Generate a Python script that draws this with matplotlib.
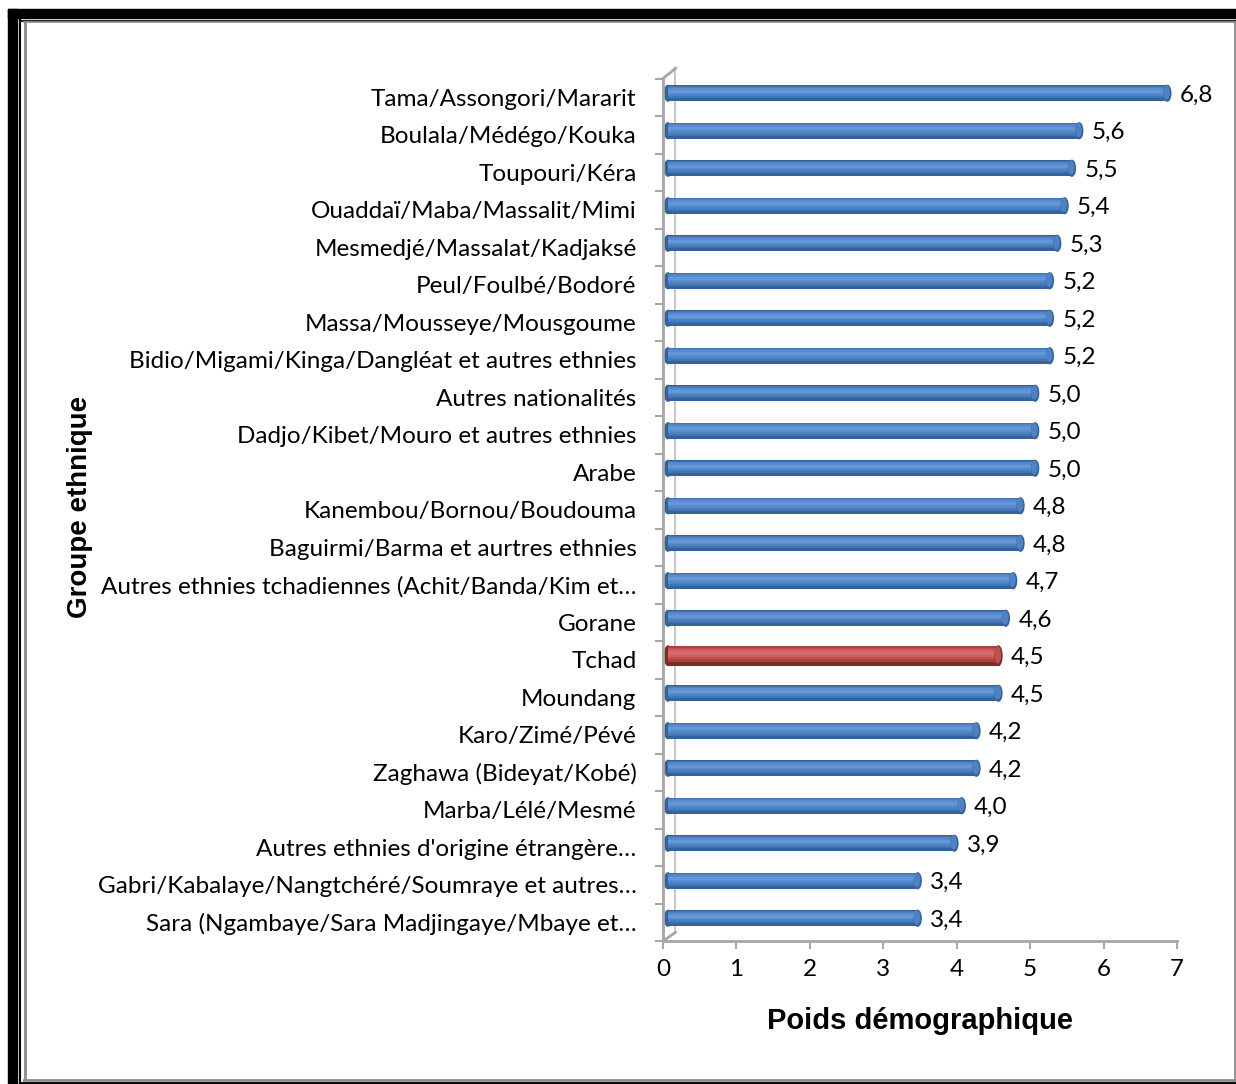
import matplotlib
matplotlib.use("Agg")
import matplotlib.pyplot as plt
import matplotlib.transforms as mtransforms
from matplotlib.patches import Rectangle, Ellipse
from matplotlib.lines import Line2D

# data, top to bottom as in the chart
groups = [
    "Tama/Assongori/Mararit",
    "Boulala/Médégo/Kouka",
    "Toupouri/Kéra",
    "Ouaddaï/Maba/Massalit/Mimi",
    "Mesmedjé/Massalat/Kadjaksé",
    "Peul/Foulbé/Bodoré",
    "Massa/Mousseye/Mousgoume",
    "Bidio/Migami/Kinga/Dangléat et autres ethnies",
    "Autres nationalités",
    "Dadjo/Kibet/Mouro et autres ethnies",
    "Arabe",
    "Kanembou/Bornou/Boudouma",
    "Baguirmi/Barma et aurtres ethnies",
    "Autres ethnies tchadiennes (Achit/Banda/Kim et…",
    "Gorane",
    "Tchad",
    "Moundang",
    "Karo/Zimé/Pévé",
    "Zaghawa (Bideyat/Kobé)",
    "Marba/Lélé/Mesmé",
    "Autres ethnies d'origine étrangère…",
    "Gabri/Kabalaye/Nangtchéré/Soumraye et autres…",
    "Sara (Ngambaye/Sara Madjingaye/Mbaye et…",
]
values = [6.8, 5.6, 5.5, 5.4, 5.3, 5.2, 5.2, 5.2, 5.0, 5.0, 5.0, 4.8, 4.8,
          4.7, 4.6, 4.5, 4.5, 4.2, 4.2, 4.0, 3.9, 3.4, 3.4]
highlight = "Tchad"
x_ticks = [0, 1, 2, 3, 4, 5, 6, 7]

W, H = 1236, 1084
LABEL_FONT = "Lato"
TITLE_FONT = "Liberation Sans"
GRAY = "#A6A6A6"
FS = 17.5


def fx(x):
    return x / W


def fy(y):
    return 1 - y / H


fig = plt.figure(figsize=(W / 100, H / 100), dpi=100)

# outer frame (thick black band + thin black + grey line)
frame = [
    Rectangle((fx(8), fy(18)), fx(W - 8), 9 / H, color="black"),
    Rectangle((fx(8), 0), 9 / W, fy(9), color="black"),
]
for p in frame:
    p.set_transform(fig.transFigure)
    fig.add_artist(p)
fig.add_artist(Line2D([fx(20), fx(20)], [fy(20), fy(1083)], color="black", lw=1.5, transform=fig.transFigure))
fig.add_artist(Line2D([fx(20), 1], [fy(20.5), fy(20.5)], color="black", lw=1.2, transform=fig.transFigure))
fig.add_artist(Line2D([fx(20), 1], [fy(1083), fy(1083)], color="black", lw=2, transform=fig.transFigure))
fig.add_artist(Line2D([fx(24.5), fx(24.5)], [fy(22), fy(1080)], color="#8C8C8C", lw=2, transform=fig.transFigure))
fig.add_artist(Line2D([fx(24), fx(1234.5)], [fy(22), fy(22)], color="#8C8C8C", lw=1.2, transform=fig.transFigure))
fig.add_artist(Line2D([fx(24), fx(1234.5)], [fy(1080), fy(1080)], color="#8C8C8C", lw=2, transform=fig.transFigure))
fig.add_artist(Line2D([fx(1234.5), fx(1234.5)], [fy(22), fy(1080)], color="#8C8C8C", lw=2, transform=fig.transFigure))

ax = fig.add_axes([fx(663), fy(941), fx(1177 - 663), (941 - 78.5) / H])
n = len(groups)
ypos = [n - 1 - i for i in range(n)]
ax.set_xlim(0, 7)
ax.set_ylim(-0.5, n - 0.5)

# bars sit on the back wall of the 3D chart
back = ax.transData + mtransforms.ScaledTranslation(5 / 100, 4 / 100, fig.dpi_scale_trans)

# back wall edge and the slanted floor/top corners
ax.plot([0.17, 0.17], [-0.27, n - 0.5 + 0.27], color="#C8C8C8", lw=1.5, clip_on=False, zorder=0)
ax.plot([0, 0.17], [-0.5, -0.27], color=GRAY, lw=2, clip_on=False, zorder=1)
ax.plot([0, 0.17], [n - 0.5, n - 0.5 + 0.27], color=GRAY, lw=2, clip_on=False, zorder=1)

# cylinder shading: (colour, relative height, relative centre)
blue = [("#34639B", 1.0, 0.0), ("#4475B2", 0.8, 0.08), ("#4E82C3", 0.6, 0.12),
        ("#578DCF", 0.4, 0.14), ("#6298D8", 0.2, 0.12)]
red = [("#7E2B29", 1.0, 0.0), ("#A84341", 0.8, 0.08), ("#C0504D", 0.6, 0.12),
       ("#CC5F5C", 0.4, 0.14), ("#D66C69", 0.2, 0.12)]
cap_w = 7 / 73.4
for y, v, g in zip(ypos, values, groups):
    shades = red if g == highlight else blue
    h = 0.52 if g == highlight else 0.42
    for k, (c, rh, rc) in enumerate(shades):
        ax.barh(y + rc * h, v, height=rh * h, left=0, color=c, transform=back, zorder=3 + k)
    ax.add_patch(Ellipse((0, y), cap_w, h, color=shades[0][0], transform=back, zorder=2))
    ax.add_patch(Ellipse((v, y), cap_w, h, color=shades[0][0], transform=back, zorder=9))
    ax.add_patch(Ellipse((v - 0.01, y + 0.02), cap_w * 0.75, h * 0.8, color=shades[2][0], transform=back, zorder=10))
    ax.annotate(f"{v:.1f}".replace(".", ","), xy=(v, y), xycoords=back,
                xytext=(9, -1.5), textcoords="offset points", va="center", ha="left",
                fontsize=FS, family=LABEL_FONT, color="black")

for s in ["top", "right"]:
    ax.spines[s].set_visible(False)
for s in ["left", "bottom"]:
    ax.spines[s].set_color(GRAY)
    ax.spines[s].set_linewidth(2)

ax.set_yticks(ypos)
ax.set_yticklabels(groups, fontsize=FS, family=LABEL_FONT)
ax.set_yticks([k + 0.5 for k in range(-1, n)], minor=True)
ax.tick_params(axis="y", which="major", length=0, pad=19)
ax.tick_params(axis="y", which="minor", length=6, width=1.5, color=GRAY)
ax.set_xticks(x_ticks)
ax.set_xticklabels([str(t) for t in x_ticks], fontsize=FS, family=LABEL_FONT)
ax.tick_params(axis="x", length=6, width=1.5, color=GRAY, pad=7)

fig.text(fx(920), fy(1021), "Poids démographique", ha="center", va="center",
         fontsize=21, fontweight="bold", family=TITLE_FONT)
fig.text(fx(80), fy(507), "Groupe ethnique", ha="center", va="center", rotation=90,
         fontsize=20, fontweight="bold", family=TITLE_FONT)

fig.savefig("out.png", dpi=100)
